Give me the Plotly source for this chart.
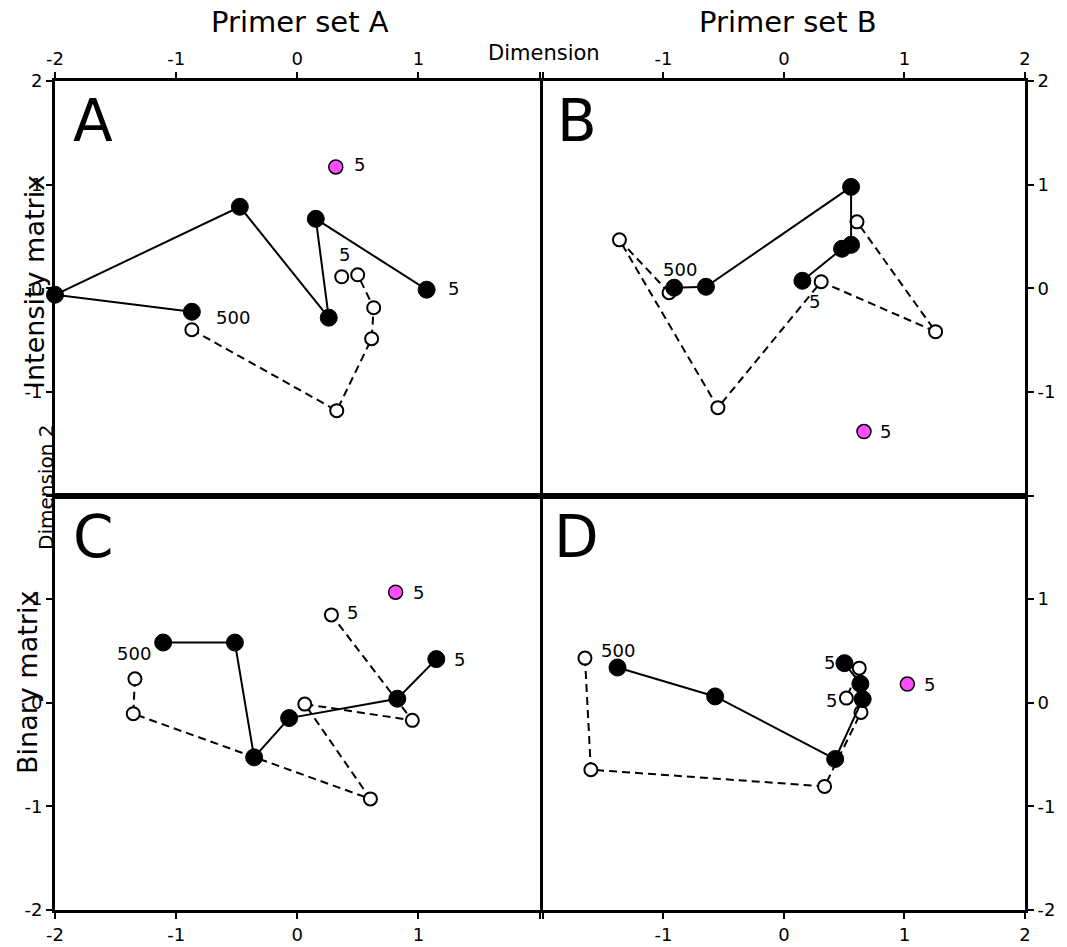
import plotly.graph_objects as go

# ---------------- data ----------------
A_fill_x = [-0.870, -2.0, -0.474, 0.260, 0.153, 1.068]
A_fill_y = [-0.227, -0.063, 0.786, -0.284, 0.670, -0.014]
A_open_x = [-0.870, 0.326, 0.614, 0.631, 0.499, 0.367]
A_open_y = [-0.400, -1.181, -0.487, -0.188, 0.130, 0.111]
A_ref_x = [0.318]
A_ref_y = [1.171]

B_fill_x = [-0.911, -0.647, 0.557, 0.557, 0.482, 0.153]
B_fill_y = [0.005, 0.014, 0.978, 0.419, 0.381, 0.072]
B_open_x = [-0.953, -1.365, -0.548, 0.309, 1.258, 0.606]
B_open_y = [-0.043, 0.467, -1.152, 0.063, -0.419, 0.641]
B_ref_x = [0.664]
B_ref_y = [-1.383]

C_fill_x = [-1.107, -0.515, -0.356, -0.067, 0.826, 1.148]
C_fill_y = [0.581, 0.581, -0.527, -0.148, 0.039, 0.421]
C_open_x = [-1.340, -1.354, 0.604, 0.062, 0.950, 0.282]
C_open_y = [0.231, -0.106, -0.928, -0.013, -0.170, 0.848]
C_ref_x = [0.812]
C_ref_y = [1.067]

D_fill_x = [-1.381, -0.571, 0.425, 0.653, 0.634, 0.502]
D_fill_y = [0.340, 0.061, -0.543, 0.035, 0.183, 0.382]
D_open_x = [-1.651, -1.602, 0.337, 0.639, 0.625, 0.518]
D_open_y = [0.431, -0.646, -0.807, -0.093, 0.334, 0.045]
D_ref_x = [1.024]
D_ref_y = [0.180]

start_label = "500"
end_label = "5"

col_titles = ["Primer set A", "Primer set B"]
row_titles = ["Intensity matrix", "Binary matrix"]
panel_letters = ["A", "B", "C", "D"]
tick_vals = [-2, -1, 0, 1, 2]

# ---------------- figure ----------------
W, H = 1067, 947
ML, MR, MT, MB = 55, 42, 81, 37
PW, PH = W - ML - MR, H - MT - MB
FONT = "DejaVu Sans"
MAGENTA = "#ff4dff"

fig = go.Figure()

panels = [
    ("x", "y", A_fill_x, A_fill_y, A_open_x, A_open_y, A_ref_x, A_ref_y),
    ("x2", "y2", B_fill_x, B_fill_y, B_open_x, B_open_y, B_ref_x, B_ref_y),
    ("x3", "y3", C_fill_x, C_fill_y, C_open_x, C_open_y, C_ref_x, C_ref_y),
    ("x4", "y4", D_fill_x, D_fill_y, D_open_x, D_open_y, D_ref_x, D_ref_y),
]

for xa, ya, fx, fy, ox, oy, rx, ry in panels:
    fig.add_trace(go.Scatter(
        x=ox, y=oy, xaxis=xa, yaxis=ya, mode="lines+markers",
        line=dict(color="black", width=2, dash="8px,5px"),
        marker=dict(size=13, color="white", line=dict(color="black", width=2)),
        cliponaxis=False, showlegend=False, hoverinfo="skip"))
    fig.add_trace(go.Scatter(
        x=fx, y=fy, xaxis=xa, yaxis=ya, mode="lines+markers",
        line=dict(color="black", width=2),
        marker=dict(size=17, color="black", line=dict(color="black", width=1)),
        cliponaxis=False, showlegend=False, hoverinfo="skip"))
    fig.add_trace(go.Scatter(
        x=rx, y=ry, xaxis=xa, yaxis=ya, mode="markers",
        marker=dict(size=14, color=MAGENTA, line=dict(color="black", width=1.5)),
        cliponaxis=False, showlegend=False, hoverinfo="skip"))

# point labels: (axis, text, x, y, xanchor, xshift, yshift)
point_labels = [
    ("x", "y", start_label, A_fill_x[0], A_fill_y[0], "left", 22, -6),
    ("x", "y", end_label, A_fill_x[-1], A_fill_y[-1], "left", 19, 1),
    ("x", "y", end_label, A_open_x[-1], A_open_y[-1], "center", 3, 22),
    ("x", "y", end_label, A_ref_x[0], A_ref_y[0], "left", 16, 2),
    ("x2", "y2", start_label, B_fill_x[0], B_fill_y[0], "center", 6, 18),
    ("x2", "y2", end_label, B_fill_x[-1], B_fill_y[-1], "center", 12, -21),
    ("x2", "y2", end_label, B_ref_x[0], B_ref_y[0], "left", 14, 0),
    ("x3", "y3", start_label, C_open_x[0], C_open_y[0], "center", -1, 25),
    ("x3", "y3", end_label, C_fill_x[-1], C_fill_y[-1], "left", 16, 0),
    ("x3", "y3", end_label, C_open_x[-1], C_open_y[-1], "left", 14, 2),
    ("x3", "y3", end_label, C_ref_x[0], C_ref_y[0], "left", 15, 0),
    ("x4", "y4", start_label, D_open_x[0], D_open_y[0], "left", 14, 8),
    ("x4", "y4", end_label, D_fill_x[-1], D_fill_y[-1], "right", -7, 1),
    ("x4", "y4", end_label, D_open_x[-1], D_open_y[-1], "right", -7, -2),
    ("x4", "y4", end_label, D_ref_x[0], D_ref_y[0], "left", 15, 0),
]
for xa, ya, t, x, y, xanc, xs, ys in point_labels:
    fig.add_annotation(x=x, y=y, xref=xa, yref=ya, text=t, showarrow=False,
                       xanchor=xanc, yanchor="middle", xshift=xs, yshift=ys,
                       font=dict(family=FONT, size=18, color="black"))

# ---------------- axes ----------------
def px2paper_x(px):
    return (px - ML) / PW

def px2paper_y(py):
    return (H - MB - py) / PH

split_x = 0.4995
gap = 0.0035
common = dict(range=[-2, 2], showgrid=False, zeroline=False, showline=True,
              linecolor="black", linewidth=3, mirror=True, ticks="outside",
              ticklen=6, tickwidth=2, tickcolor="black", tickvals=tick_vals,
              automargin=False,
              tickfont=dict(family=FONT, size=18, color="black"))

fig.update_layout(
    xaxis=dict(common, domain=[0, split_x], side="top", anchor="y",
               ticktext=["-2", "-1", "0", "1", ""]),
    xaxis2=dict(common, domain=[split_x + gap, 1], side="top", anchor="y2",
                ticktext=["", "-1", "0", "1", "2"]),
    xaxis3=dict(common, domain=[0, split_x], side="bottom", anchor="y3",
                ticktext=["-2", "-1", "0", "1", ""]),
    xaxis4=dict(common, domain=[split_x + gap, 1], side="bottom", anchor="y4",
                ticktext=["", "-1", "0", "1", "2"]),
    yaxis=dict(common, domain=[0.5, 1], side="left", anchor="x",
               ticktext=["", "-1", "0", "1", "2"]),
    yaxis2=dict(common, domain=[0.5, 1], side="right", anchor="x2",
                ticktext=["", "-1", "0", "1", "2"]),
    yaxis3=dict(common, domain=[0, 0.5], side="left", anchor="x3",
                ticktext=["-2", "-1", "0", "1", ""]),
    yaxis4=dict(common, domain=[0, 0.5], side="right", anchor="x4",
                ticktext=["-2", "-1", "0", "1", ""]),
)

# ---------------- titles / letters ----------------
def ann(text, px, py, size, angle=0):
    fig.add_annotation(x=px2paper_x(px), y=px2paper_y(py), xref="paper", yref="paper",
                       text=text, showarrow=False, textangle=angle,
                       xanchor="center", yanchor="middle",
                       font=dict(family=FONT, size=size, color="black"))

ann(col_titles[0], 300, 22, 29)
ann(col_titles[1], 788, 22, 29)
ann("Dimension", 544, 53, 21)
ann(row_titles[0], 34, 282, 27, -90)
ann(row_titles[1], 27, 683, 27, -90)
ann("Dimension 2", 46, 488, 20, -90)
ann(panel_letters[0], 93, 121, 58)
ann(panel_letters[1], 577, 121, 58)
ann(panel_letters[2], 93, 537, 58)
ann(panel_letters[3], 576, 537, 58)

fig.update_layout(
    width=W, height=H,
    margin=dict(l=ML, r=MR, t=MT, b=MB, autoexpand=False),
    paper_bgcolor="white", plot_bgcolor="white",
    font=dict(family=FONT, color="black"),
    showlegend=False,
)

fig.write_html("out.html")
